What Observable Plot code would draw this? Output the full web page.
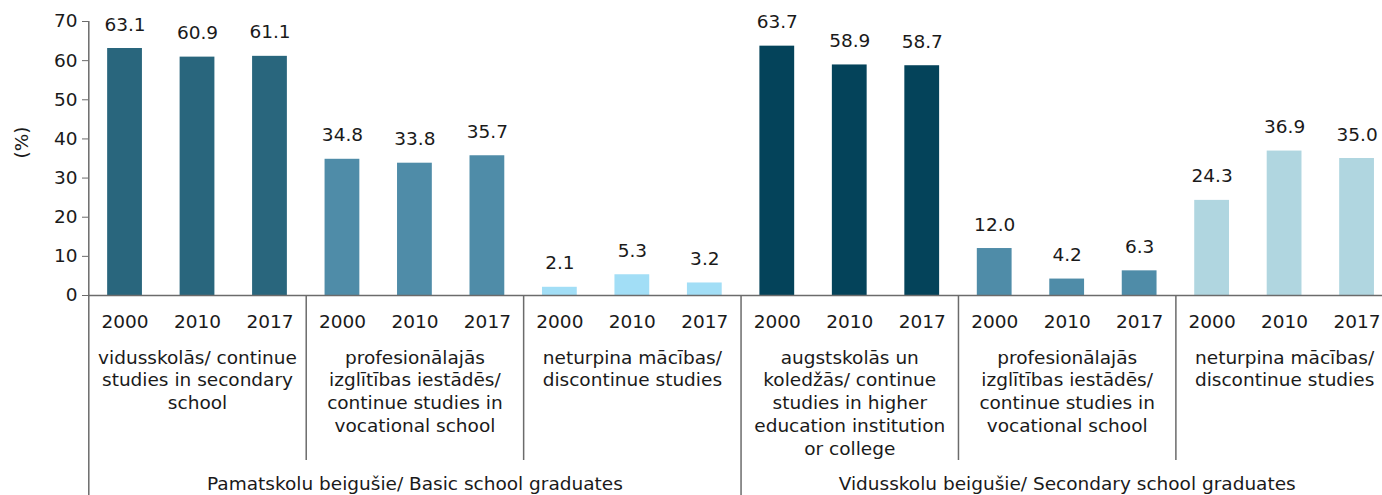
<!DOCTYPE html>
<html>
<head>
<meta charset="utf-8">
<script src="https://cdn.jsdelivr.net/npm/d3@7"></script>
<script src="https://cdn.jsdelivr.net/npm/@observablehq/plot@0.6"></script>
<style>
  html, body { margin: 0; padding: 0; background: #fff; }
  #chart svg { display: block; }
</style>
</head>
<body>
<div id="chart"></div>
<script>
// ---- data ----
const groups = [
  "Pamatskolu beigušie/ Basic school graduates",
  "Vidusskolu beigušie/ Secondary school graduates"
];
const subcategories = [
  "vidusskolās/ continue\nstudies in secondary\nschool",
  "profesionālajās\nizglītības iestādēs/\ncontinue studies in\nvocational school",
  "neturpina mācības/\ndiscontinue studies",
  "augstskolās un\nkoledžās/ continue\nstudies in higher\neducation institution\nor college",
  "profesionālajās\nizglītības iestādēs/\ncontinue studies in\nvocational school",
  "neturpina mācības/\ndiscontinue studies"
];
const subGroupIndex = [0, 0, 0, 1, 1, 1];
const years = ["2000", "2010", "2017"];
const values = [
  63.1, 60.9, 61.1,
  34.8, 33.8, 35.7,
  2.1, 5.3, 3.2,
  63.7, 58.9, 58.7,
  12.0, 4.2, 6.3,
  24.3, 36.9, 35.0
];
const subColors = ["#29667d", "#4f8ca8", "#a2def6", "#04435a", "#4f8ca8", "#b0d6e0"];
const yTicks = [0, 10, 20, 30, 40, 50, 60, 70];

// ---- table ----
const rows = [];
subcategories.forEach((s, si) => {
  years.forEach((yr, yi) => {
    rows.push({
      key: `${si}|${yr}`,
      sub: si,
      group: subGroupIndex[si],
      year: yr,
      value: values[si * years.length + yi],
      color: subColors[si]
    });
  });
});
const keys = rows.map(d => d.key);
const subRows = subcategories.map((s, si) => ({
  label: s,
  key: `${si}|${years[1]}`,
  first: `${si}|${years[0]}`
}));
const groupRows = groups.map((g, gi) => {
  const subs = subGroupIndex.map((v, i) => v === gi ? i : -1).filter(i => i >= 0);
  return {
    label: g,
    first: `${subs[0]}|${years[0]}`,
    count: subs.length * years.length
  };
});

const W = 1382, H = 495;
const xLeft = 88.3, xRight = 1392.8;
const step = (xRight - xLeft) / keys.length;
const font = "DejaVu Sans, Verdana, sans-serif";
const fs = 18.5;
const lineColor = "#6b6b6b";
const textColor = "#1a1a1a";

const plot = Plot.plot({
  width: W,
  height: H,
  marginLeft: 88,
  marginRight: 0,
  marginTop: 21,
  marginBottom: 200,
  style: { fontFamily: font, fontSize: fs + "px", color: textColor, background: "#fff" },
  x: { type: "band", domain: keys, range: [xLeft, xRight], paddingInner: 0.52, paddingOuter: 0.26, round: false, axis: null },
  y: { domain: [0, 70], axis: null },
  marks: [
    Plot.barY(rows, { x: "key", y: "value", fill: "color" }),
    Plot.text(rows, {
      x: "key", y: "value", text: d => d.value.toFixed(1),
      lineAnchor: "bottom", dy: -18, fontSize: fs, fill: textColor
    }),
    // y axis
    Plot.axisY({
      ticks: yTicks, tickSize: 6, tickPadding: 5, fontSize: fs,
      label: null, stroke: lineColor, fill: textColor, tickFormat: d => String(d)
    }),
    Plot.text(["(%)"], {
      frameAnchor: "left", dx: -66, rotate: -90, fontSize: fs, fill: textColor
    }),
    // baseline
    Plot.ruleY([0], { stroke: lineColor, strokeWidth: 1.5 }),
    // year labels
    Plot.text(rows, {
      x: "key", text: "year", frameAnchor: "bottom", lineAnchor: "bottom",
      dy: 32, fontSize: fs, fill: textColor
    }),
    // subcategory labels
    Plot.text(subRows, {
      x: "key", text: "label", frameAnchor: "bottom", lineAnchor: "top",
      dy: 52, lineHeight: 1.23, fontSize: fs, fill: textColor
    }),
    // subcategory separators
    Plot.ruleX(subRows.filter((d, i) => subGroupIndex[i] === subGroupIndex[i - 1]), {
      x: "first", dx: -step / 2, stroke: lineColor, strokeWidth: 1.5,
      insetTop: 274, insetBottom: -165
    }),
    // group separators (incl. y axis line)
    Plot.ruleX(groupRows.slice(0, 1), {
      x: "first", dx: -step / 2, stroke: lineColor, strokeWidth: 1.5,
      insetTop: 0, insetBottom: -200
    }),
    Plot.ruleX(groupRows.slice(1), {
      x: "first", dx: -step / 2, stroke: lineColor, strokeWidth: 1.5,
      insetTop: 274, insetBottom: -200
    }),
    // group labels
    Plot.text(groupRows, {
      x: "first", text: "label", frameAnchor: "bottom", lineAnchor: "bottom",
      dx: (9 * step) / 2 - step / 2, dy: 194, fontSize: fs, fill: textColor
    })
  ]
});
document.getElementById("chart").appendChild(plot);
</script>
</body>
</html>
